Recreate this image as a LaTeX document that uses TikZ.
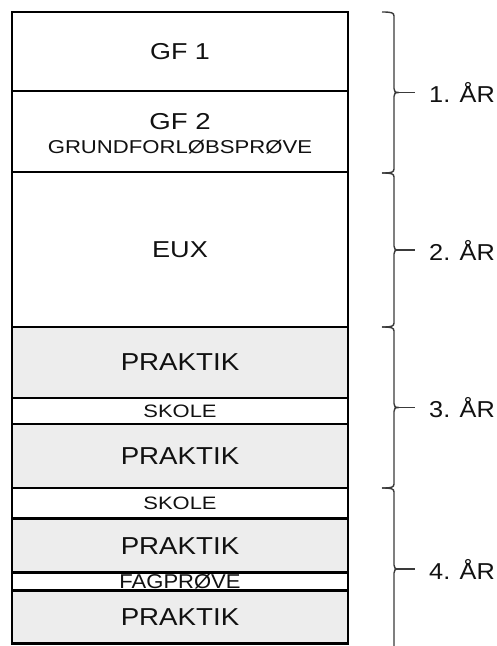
\documentclass[tikz,border=0pt]{standalone}
\usepackage{fontspec}
\setmainfont{Liberation Sans}
\usepackage{graphicx}
\definecolor{txt}{HTML}{111111}
\definecolor{pgray}{RGB}{237,237,237}
\definecolor{brc}{HTML}{3a3a3a}
\newcommand\hs[2]{\scalebox{#1}[1]{#2}}
\newcommand\fsz[1]{\fontsize{#1}{#1}\selectfont}
\tikzset{
  seg/.style={minimum width=336pt, inner sep=0pt, outer sep=0pt, text=txt},
  wseg/.style={seg, fill=white},
  gseg/.style={seg, fill=pgray},
  frame/.style={line width=2.9pt, draw=black},
  brace/.style={line width=1.4pt, draw=brc, line cap=butt},
  yearlabel/.style={anchor=base west, inner sep=0pt, text=txt, font=\fsz{23}},
}
\newcommand\yearbrace[4]{%
  \pgfmathsetmacro\m{(#1+#2)/2}%
  \draw[brace] (382,#1) .. controls (391,#1) and (394,#1+0.5) .. (394,#1+4)
    -- (394,\m-4) .. controls (394,\m-1) and (395,\m) .. (399,\m)
    .. controls (395,\m) and (394,\m+1) .. (394,\m+4)
    -- (394,#2-4) .. controls (394,#2-0.5) and (391,#2) .. (382,#2);
  \draw[brace] (398,\m) -- (415,\m) coordinate (#4);
  \node[yearlabel] (#4l) at (429,\m+10) {\hs{1.1}{#3}};
}
\begin{document}
\begin{tikzpicture}[x=1pt,y=-1pt]
\useasboundingbox (0,0) rectangle (496,646);
% segments
\node[wseg, minimum height=79pt, font=\fsz{23}] (gf1) at (180,51.5) {\hs{1.17}{GF 1}};
\node[wseg, minimum height=81pt] (gf2) at (180,131.5) {};
\node[inner sep=0pt, text=txt, font=\fsz{23}] (gf2a) at (180,122) {\hs{1.2}{GF 2}};
\node[inner sep=0pt, text=txt, font=\fsz{18.6}] (gf2b) at (180,147.5) {\hs{1.19}{GRUNDFORLØBSPRØVE}};
\node[wseg, minimum height=155pt, font=\fsz{23}] (eux) at (180,249.5) {\hs{1.18}{EUX}};
\node[gseg, minimum height=71pt, font=\fsz{24.5}] (pr1) at (180,362.5) {\hs{1.13}{PRAKTIK}};
\node[wseg, minimum height=26pt, font=\fsz{18}] (sk1) at (180,411) {\hs{1.22}{SKOLE}};
\node[gseg, minimum height=64pt, font=\fsz{24.5}] (pr2) at (180,456) {\hs{1.13}{PRAKTIK}};
\node[wseg, minimum height=30pt, font=\fsz{18}] (sk2) at (180,503) {\hs{1.22}{SKOLE}};
\node[gseg, minimum height=54pt, font=\fsz{24.5}] (pr3) at (180,546) {\hs{1.13}{PRAKTIK}};
\node[wseg, minimum height=18pt] (fag) at (180,581) {};
\begin{scope}
  \clip (fag.north west) rectangle (fag.south east);
  \node[inner sep=0pt, text=txt, font=\fsz{20}] (fagt) at (180,581.5) {\hs{1.1}{FAGPRØVE}};
\end{scope}
\node[gseg, minimum height=53pt, font=\fsz{24.5}] (pr4) at (180,617) {\hs{1.13}{PRAKTIK}};
% frames
\foreach \n in {gf1,gf2,eux,pr1,sk1,pr2,sk2,pr3,fag,pr4}{
  \draw[frame] (\n.north west) rectangle (\n.south east);
}
% braces
\yearbrace{12}{173}{1. ÅR}{y1}
\yearbrace{173}{327}{2. ÅR}{y2}
\yearbrace{327}{488}{3. ÅR}{y3}
\yearbrace{488}{650}{4. ÅR}{y4}
\end{tikzpicture}
\end{document}
